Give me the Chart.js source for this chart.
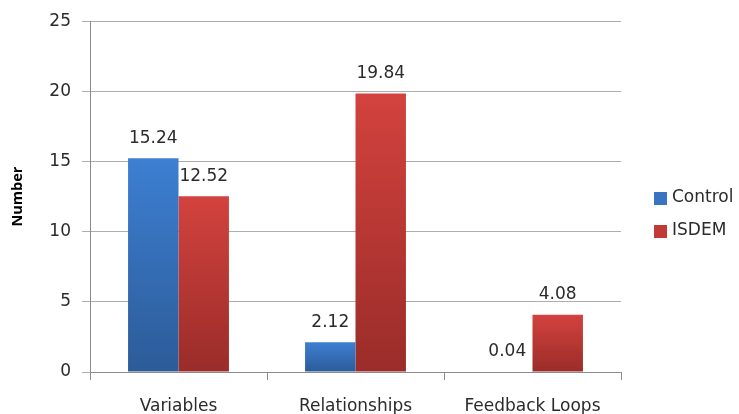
<!DOCTYPE html>
<html>
<head>
<meta charset="utf-8">
<script src="https://cdn.jsdelivr.net/npm/chart.js@4"></script>
<style>
  html, body { margin: 0; padding: 0; background: #fff; }
  #wrap { width: 739px; height: 414px; }
</style>
</head>
<body>
<div id="wrap"><canvas id="canvas" width="739" height="414"></canvas></div>
<script>
const categories = ['Variables', 'Relationships', 'Feedback Loops'];
const controlValues = [15.24, 2.12, 0.04];
const isdemValues = [12.52, 19.84, 4.08];
const seriesNames = ['Control', 'ISDEM'];
const yTicks = [0, 5, 10, 15, 20, 25];

const FONT = "'DejaVu Sans', sans-serif";

// gradient per bar, light at top, darker at the base
function barGradient(top, bottom){
    return function(context){
        const chart = context.chart;
        const y = chart.scales.y;
        if(!y || context.parsed === undefined) return bottom;
        const yTop = y.getPixelForValue(context.parsed.y);
        const yBase = y.getPixelForValue(0);
        if(!isFinite(yTop) || yBase - yTop < 1) return top;
        const g = chart.ctx.createLinearGradient(0, yTop, 0, yBase);
        g.addColorStop(0, top);
        g.addColorStop(1, bottom);
        return g;
    };
}

const labelsPlugin = {
    id: 'barLabels',
    afterDatasetsDraw(chart){
        const c = chart.ctx;
        c.save();
        c.font = '17px ' + FONT;
        c.fillStyle = '#2b2b2b';
        c.textAlign = 'center';
        c.textBaseline = 'middle';
        chart.data.datasets.forEach((ds, i) => {
            chart.getDatasetMeta(i).data.forEach((bar, j) => {
                c.fillText(ds.data[j].toFixed(2), bar.x, bar.y - 20);
            });
        });
        c.restore();
    }
};

const legendPlugin = {
    id: 'sideLegend',
    afterDraw(chart){
        const c = chart.ctx;
        const rows = [198, 231];
        const swatch = ['#3a74c0', '#c23a36'];
        c.save();
        c.font = '17px ' + FONT;
        c.textBaseline = 'middle';
        c.textAlign = 'left';
        chart.data.datasets.forEach((ds, i) => {
            c.fillStyle = swatch[i];
            c.fillRect(654, rows[i] - 6, 13, 13);
            c.fillStyle = '#2b2b2b';
            c.fillText(ds.label, 672, rows[i]);
        });
        c.restore();
    }
};

const ctx = document.getElementById('canvas').getContext('2d');
const myChart = new Chart(ctx, {
    type: 'bar',
    data: {
        labels: categories,
        datasets: [{
            label: seriesNames[0],
            data: controlValues,
            backgroundColor: barGradient('#3d7fd2', '#2c5b98'),
            borderWidth: 0
        }, {
            label: seriesNames[1],
            data: isdemValues,
            backgroundColor: barGradient('#d3423e', '#9a2c29'),
            borderWidth: 0
        }]
    },
    options: {
        responsive: false,
        animation: false,
        layout: { padding: { left: 0, right: 118, top: 16, bottom: 0 } },
        plugins: {
            legend: { display: false },
            tooltip: { enabled: false }
        },
        datasets: {
            bar: { categoryPercentage: 0.57, barPercentage: 1 }
        },
        scales: {
            x: {
                grid: { offset: true, drawOnChartArea: false, tickLength: 8, color: '#8c8c8c' },
                border: { color: '#8c8c8c' },
                ticks: { color: '#2b2b2b', font: { family: FONT, size: 17 }, padding: 16 },
                afterFit: s => { s.height = 42; }
            },
            y: {
                min: 0,
                max: 25,
                afterBuildTicks: s => { s.ticks = yTicks.map(v => ({ value: v })); },
                grid: { color: '#adadad', tickLength: 8 },
                border: { color: '#8c8c8c' },
                ticks: { color: '#2b2b2b', font: { family: FONT, size: 17 }, padding: 11 },
                title: {
                    display: true,
                    text: 'Number',
                    color: '#000',
                    font: { family: "'Open Sans', sans-serif", size: 14.5, weight: 'bold' },
                    padding: { top: 9, bottom: 0 }
                },
                afterFit: s => { s.width = 90; }
            }
        }
    },
    plugins: [labelsPlugin, legendPlugin]
});
</script>
</body>
</html>
